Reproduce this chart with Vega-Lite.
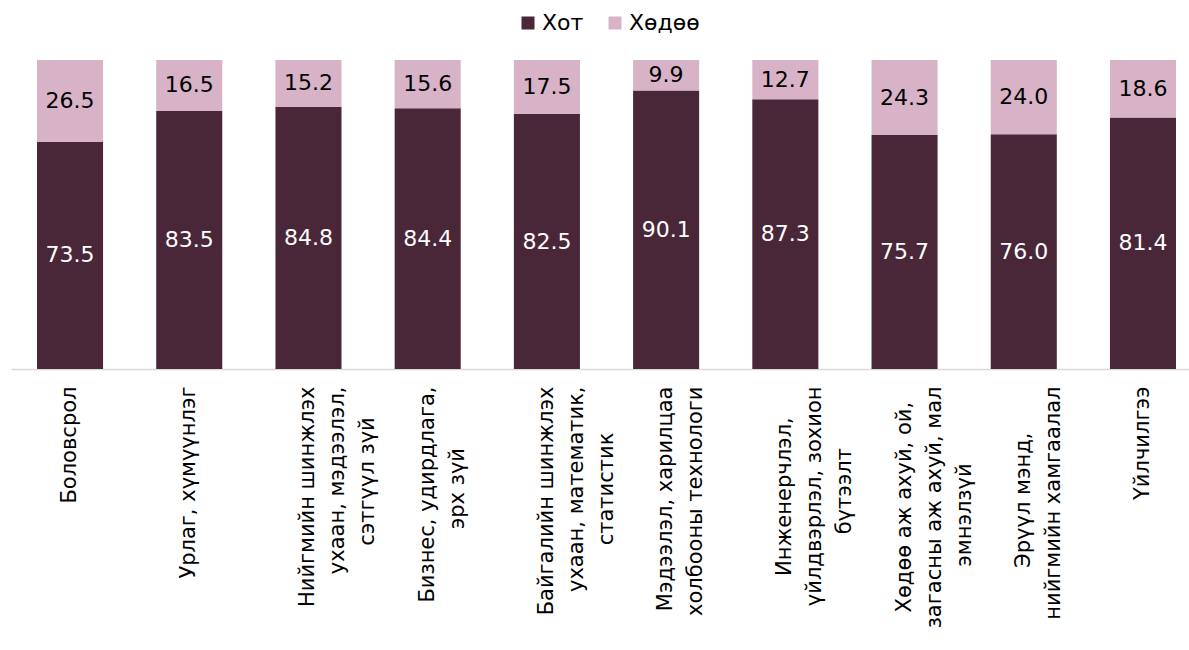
{
  "$schema": "https://vega.github.io/schema/vega-lite/v6.json",
  "autosize": {"type": "none"},
  "padding": {"left": 11, "top": 60, "right": 0, "bottom": 281},
  "width": 1178,
  "height": 309,
  "background": "white",
  "config": {"view": {"stroke": null}, "font": "DejaVu Sans"},
  "data": {
    "values": [
      {"i": 1, "cat": "Боловсрол", "s": "Хот", "k": 1, "v": 73.5},
      {"i": 1, "cat": "Боловсрол", "s": "Хөдөө", "k": 2, "v": 26.5},
      {"i": 2, "cat": "Урлаг, хүмүүнлэг", "s": "Хот", "k": 1, "v": 83.5},
      {"i": 2, "cat": "Урлаг, хүмүүнлэг", "s": "Хөдөө", "k": 2, "v": 16.5},
      {"i": 3, "cat": "Нийгмийн шинжлэх|ухаан, мэдээлэл,|сэтгүүл зүй", "s": "Хот", "k": 1, "v": 84.8},
      {"i": 3, "cat": "Нийгмийн шинжлэх|ухаан, мэдээлэл,|сэтгүүл зүй", "s": "Хөдөө", "k": 2, "v": 15.2},
      {"i": 4, "cat": "Бизнес, удирдлага,|эрх зүй", "s": "Хот", "k": 1, "v": 84.4},
      {"i": 4, "cat": "Бизнес, удирдлага,|эрх зүй", "s": "Хөдөө", "k": 2, "v": 15.6},
      {"i": 5, "cat": "Байгалийн шинжлэх|ухаан, математик,|статистик", "s": "Хот", "k": 1, "v": 82.5},
      {"i": 5, "cat": "Байгалийн шинжлэх|ухаан, математик,|статистик", "s": "Хөдөө", "k": 2, "v": 17.5},
      {"i": 6, "cat": "Мэдээлэл, харилцаа|холбооны технологи", "s": "Хот", "k": 1, "v": 90.1},
      {"i": 6, "cat": "Мэдээлэл, харилцаа|холбооны технологи", "s": "Хөдөө", "k": 2, "v": 9.9},
      {"i": 7, "cat": "Инженерчлэл,|үйлдвэрлэл, зохион|бүтээлт", "s": "Хот", "k": 1, "v": 87.3},
      {"i": 7, "cat": "Инженерчлэл,|үйлдвэрлэл, зохион|бүтээлт", "s": "Хөдөө", "k": 2, "v": 12.7},
      {"i": 8, "cat": "Хөдөө аж ахуй, ой,|загасны аж ахуй, мал|эмнэлзүй", "s": "Хот", "k": 1, "v": 75.7},
      {"i": 8, "cat": "Хөдөө аж ахуй, ой,|загасны аж ахуй, мал|эмнэлзүй", "s": "Хөдөө", "k": 2, "v": 24.3},
      {"i": 9, "cat": "Эрүүл мэнд,|нийгмийн хамгаалал", "s": "Хот", "k": 1, "v": 76.0},
      {"i": 9, "cat": "Эрүүл мэнд,|нийгмийн хамгаалал", "s": "Хөдөө", "k": 2, "v": 24.0},
      {"i": 10, "cat": "Үйлчилгээ", "s": "Хот", "k": 1, "v": 81.4},
      {"i": 10, "cat": "Үйлчилгээ", "s": "Хөдөө", "k": 2, "v": 18.6}
    ]
  },
  "transform": [
    {"stack": "v", "groupby": ["cat"], "sort": [{"field": "k", "order": "ascending"}], "as": ["v0", "v1"]},
    {"calculate": "(datum.v0 + datum.v1) / 2", "as": "mid"}
  ],
  "encoding": {
    "x": {
      "field": "cat",
      "type": "nominal",
      "sort": {"field": "i", "op": "min"},
      "scale": {"paddingInner": 0.446, "paddingOuter": 0.1636, "align": 0.667},
      "axis": {
        "title": null,
        "labelAngle": -90,
        "labelAlign": "right",
        "labelBaseline": "middle",
        "ticks": false,
        "domainColor": "#D9D9D9",
        "domainWidth": 1.5,
        "labelFont": "DejaVu Sans",
        "labelFontSize": 21,
        "labelLineHeight": 30,
        "labelPadding": 17,
        "labelColor": "#000000",
        "labelLimit": 1000,
        "labelExpr": "length(split(datum.label,'|')) < 2 ? datum.label : length(split(datum.label,'|')) < 3 ? [split(datum.label,'|')[0] + pad('', round((max(length(split(datum.label,'|')[0]), length(split(datum.label,'|')[1])) - length(split(datum.label,'|')[0])) * 0.4), '\u2800'), split(datum.label,'|')[1] + pad('', round((max(length(split(datum.label,'|')[0]), length(split(datum.label,'|')[1])) - length(split(datum.label,'|')[1])) * 0.4), '\u2800')] : [split(datum.label,'|')[0] + pad('', round((max(length(split(datum.label,'|')[0]), length(split(datum.label,'|')[1]), length(split(datum.label,'|')[2])) - length(split(datum.label,'|')[0])) * 0.4), '\u2800'), split(datum.label,'|')[1] + pad('', round((max(length(split(datum.label,'|')[0]), length(split(datum.label,'|')[1]), length(split(datum.label,'|')[2])) - length(split(datum.label,'|')[1])) * 0.4), '\u2800'), split(datum.label,'|')[2] + pad('', round((max(length(split(datum.label,'|')[0]), length(split(datum.label,'|')[1]), length(split(datum.label,'|')[2])) - length(split(datum.label,'|')[2])) * 0.4), '\u2800')]"
      }
    }
  },
  "layer": [
    {
      "mark": {"type": "bar"},
      "encoding": {
        "y": {"field": "v0", "type": "quantitative", "scale": {"domain": [0, 100], "nice": false}, "axis": null},
        "y2": {"field": "v1"},
        "color": {
          "field": "s",
          "type": "nominal",
          "scale": {"domain": ["Хот", "Хөдөө"], "range": ["#4A2738", "#D8B3C7"]},
          "legend": {
            "title": null,
            "orient": "none",
            "direction": "horizontal",
            "legendX": 506,
            "legendY": -48,
            "symbolType": "square",
            "symbolSize": 169,
            "symbolStrokeWidth": 0,
            "labelFont": "DejaVu Sans",
            "labelFontSize": 22,
            "labelColor": "#000000",
            "labelOffset": 3,
            "columnPadding": 20,
            "padding": 0
          }
        }
      }
    },
    {
      "mark": {"type": "text", "font": "DejaVu Sans", "fontSize": 22, "baseline": "middle", "align": "center"},
      "encoding": {
        "y": {"field": "mid", "type": "quantitative"},
        "text": {"field": "v", "type": "quantitative", "format": ".1f"},
        "color": {"condition": {"test": "datum.s === 'Хот'", "value": "#FFFFFF"}, "value": "#000000"}
      }
    }
  ]
}
